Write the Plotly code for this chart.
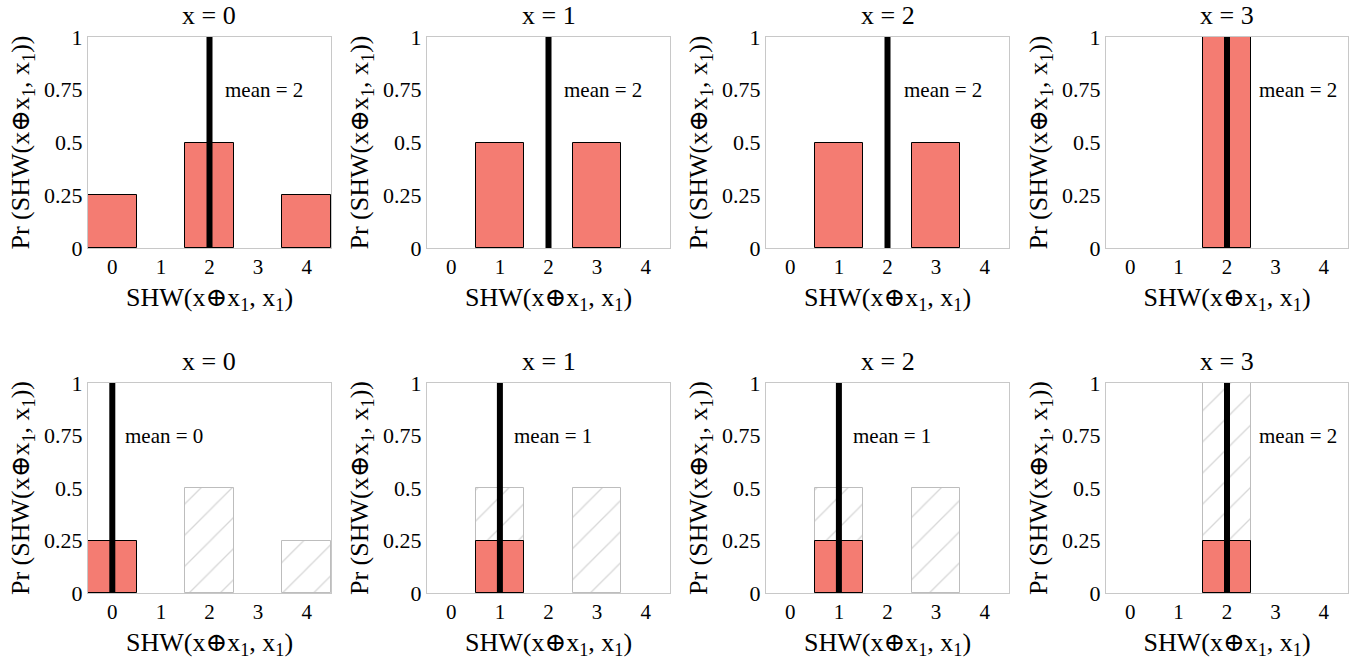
import plotly.graph_objects as go
from plotly.subplots import make_subplots

# ---- data ----
categories = [0, 1, 2, 3, 4]
panel_x = [0, 1, 2, 3]
top_probs = [
    [0.25, 0, 0.5, 0, 0.25],
    [0, 0.5, 0, 0.5, 0],
    [0, 0.5, 0, 0.5, 0],
    [0, 0, 1, 0, 0],
]
bottom_probs = [
    [0.25, 0, 0, 0, 0],
    [0, 0.25, 0, 0, 0],
    [0, 0.25, 0, 0, 0],
    [0, 0, 0.25, 0, 0],
]
top_means = [2, 2, 2, 2]
bottom_means = [0, 1, 1, 2]
y_ticks = [0, 0.25, 0.5, 0.75, 1]
y_tick_labels = ["0", "0.25", "0.5", "0.75", "1"]

# ---- style ----
W, H = 1355, 665
FONT = "Liberation Serif, Times New Roman, Tinos, DejaVu Serif, Noto Serif, serif"
SALMON = "#F47C72"
HATCH = "#BDBDBD"
col_px = [(88, 331), (427, 670), (766, 1009), (1106, 1348)]
row_px = [(37, 248), (383, 593)]
label_dx_top = [0.27, 0.28, 0.3, 0.62]
label_dx_bot = [0.22, 0.24, 0.25, 0.62]

fig = make_subplots(rows=2, cols=4)

def nz(vals):
    xs = [c for c, v in zip(categories, vals) if v > 0]
    ys = [v for v in vals if v > 0]
    return xs, ys

annotations = []
for r in range(2):
    for c in range(4):
        row, col = r + 1, c + 1
        if r == 0:
            xs, ys = nz(top_probs[c])
            fig.add_trace(go.Bar(x=xs, y=ys, width=1,
                                 marker=dict(color=SALMON, line=dict(color="black", width=1)),
                                 showlegend=False), row=row, col=col)
            m = top_means[c]
            dx = label_dx_top[c]
        else:
            xs, ys = nz(top_probs[c])
            fig.add_trace(go.Bar(x=xs, y=ys, width=1,
                                 marker=dict(color="white",
                                             line=dict(color=HATCH, width=1),
                                             pattern=dict(shape="/", fgcolor="#B0B0B0", bgcolor="white",
                                                          size=22, solidity=0.06)),
                                 showlegend=False), row=row, col=col)
            xs, ys = nz(bottom_probs[c])
            fig.add_trace(go.Bar(x=xs, y=ys, width=1,
                                 marker=dict(color=SALMON, line=dict(color="black", width=1)),
                                 showlegend=False), row=row, col=col)
            m = bottom_means[c]
            dx = label_dx_bot[c]
        fig.add_trace(go.Scatter(x=[m, m], y=[0, 1], mode="lines",
                                 line=dict(color="black", width=6),
                                 showlegend=False, hoverinfo="skip"), row=row, col=col)
        idx = r * 4 + c + 1
        xref = "x" if idx == 1 else f"x{idx}"
        yref = "y" if idx == 1 else f"y{idx}"
        annotations.append(dict(x=m + dx, y=0.75, xref=xref, yref=yref, text=f"mean = {m}",
                                showarrow=False, xanchor="left", yanchor="middle",
                                font=dict(family=FONT, size=21, color="black")))
        x0, x1 = col_px[c]
        y0, y1 = row_px[r]
        annotations.append(dict(x=(x0 + x1) / 2 / W, y=1 - y0 / H, xref="paper", yref="paper",
                                text=f"x = {panel_x[c]}", showarrow=False,
                                xanchor="center", yanchor="bottom", yshift=5,
                                font=dict(family=FONT, size=26, color="black")))
        fig.update_xaxes(domain=[x0 / W, x1 / W], range=[-0.5, 4.5], automargin=False,
                         tickvals=categories, ticktext=[str(v) for v in categories],
                         showgrid=False, zeroline=False, showline=True, mirror=True,
                         linecolor="#C8C8C8", linewidth=1, ticks="",
                         tickfont=dict(family=FONT, size=21, color="black"),
                         title=dict(text="SHW(x\u2295x<sub>1</sub>, x<sub>1</sub>)",
                                    font=dict(family=FONT, size=26, color="black"), standoff=9),
                         row=row, col=col)
        fig.update_yaxes(domain=[1 - y1 / H, 1 - y0 / H], range=[0, 1], automargin=False,
                         tickvals=y_ticks, ticktext=y_tick_labels,
                         showgrid=False, zeroline=False, showline=True, mirror=True,
                         linecolor="#C8C8C8", linewidth=1, ticks="",
                         tickfont=dict(family=FONT, size=22, color="black"),
                         title=dict(text="Pr (SHW(x\u2295x<sub>1</sub>, x<sub>1</sub>))",
                                    font=dict(family=FONT, size=26, color="black"), standoff=6),
                         row=row, col=col)

fig.update_layout(width=W, height=H, margin=dict(l=0, r=0, t=0, b=0),
                  barmode="overlay", bargap=0,
                  plot_bgcolor="white", paper_bgcolor="white",
                  annotations=annotations,
                  font=dict(family=FONT, color="black"))
fig.write_html("out.html", config={"displayModeBar": False},
               post_script="document.body.style.margin='0';document.body.style.overflow='hidden';")
